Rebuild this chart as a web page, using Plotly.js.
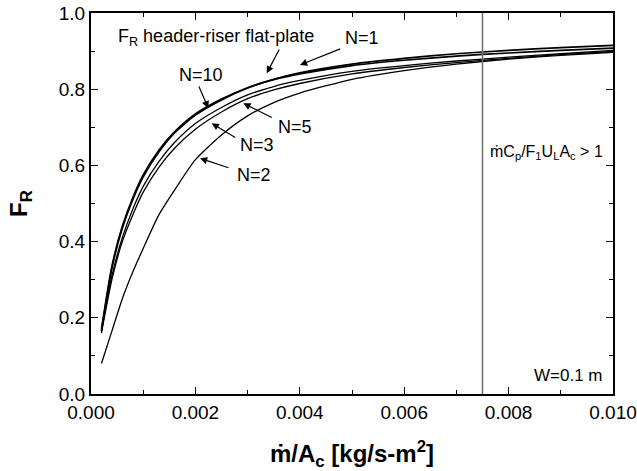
<!DOCTYPE html>
<html>
<head>
<meta charset="utf-8">
<script src="https://cdn.plot.ly/plotly-3.0.1.min.js"></script>
<style>html,body{margin:0;padding:0;background:#fff;}#chart{width:637px;height:471px;}</style>
</head>
<body>
<div id="chart"></div>
<script>
// Mass flow per collector area [kg/s-m2]
const massFlow = [0.0002,0.0004,0.0006,0.0008,0.001,0.0013,0.0016,0.002,0.0025,0.003,0.0035,0.004,0.005,0.006,0.007,0.008,0.009,0.010];
// Heat removal factor F_R for each number of risers N
const FR_N1  = [0.165,0.33,0.435,0.51,0.57,0.635,0.685,0.732,0.772,0.803,0.826,0.843,0.866,0.881,0.893,0.902,0.909,0.915];
const FR_N10 = [0.17,0.335,0.44,0.515,0.575,0.64,0.688,0.735,0.774,0.804,0.825,0.84,0.862,0.876,0.887,0.895,0.902,0.908];
const FR_N5  = [0.165,0.31,0.41,0.485,0.545,0.61,0.66,0.71,0.752,0.785,0.807,0.823,0.847,0.862,0.874,0.884,0.893,0.902];
const FR_N3  = [0.16,0.3,0.4,0.47,0.53,0.595,0.645,0.695,0.74,0.775,0.798,0.815,0.84,0.857,0.87,0.881,0.891,0.899];
const FR_N2  = [0.08,0.165,0.25,0.32,0.382,0.47,0.535,0.615,0.68,0.73,0.765,0.79,0.826,0.849,0.866,0.879,0.889,0.897];
const seriesNames = ["N=1","N=10","N=5","N=3","N=2"];
const seriesValues = [FR_N1, FR_N10, FR_N5, FR_N3, FR_N2];
const limitX = 0.0075;   // mCp/F1ULAc = 1 boundary
const xTicks = [0,0.002,0.004,0.006,0.008,0.010];
const xTickText = ["0.000","0.002","0.004","0.006","0.008","0.010"];
const yTicks = [0,0.2,0.4,0.6,0.8,1.0];
const yTickText = ["0.0","0.2","0.4","0.6","0.8","1.0"];

const FONT = "Arial, 'Liberation Sans', Helvetica, sans-serif";

const traces = seriesValues.map((v,i)=>({
  x: massFlow, y: v, name: seriesNames[i], type: "scatter", mode: "lines",
  line: {color: "#000", width: (i<2?1.7:1.3), shape: "spline", smoothing: 0.6},
  showlegend: false, hoverinfo: "skip"
}));
traces.push({
  x: [limitX, limitX], y: [0, 1], type: "scatter", mode: "lines",
  line: {color: "#6e6e6e", width: 1.5}, showlegend: false, hoverinfo: "skip"
});

// pixel -> data helpers for annotation geometry
const px2x = p => (p-91)*0.01/522;
const py2y = p => (394-p)/381;

function arrow(x0,y0,x1,y1){
  return {x: px2x(x1), y: py2y(y1), ax: px2x(x0), ay: py2y(y0), axref: "x", ayref: "y",
    xref: "x", yref: "y", text: "", showarrow: true, arrowhead: 2, arrowsize: 1.2,
    arrowwidth: 1.2, arrowcolor: "#000", standoff: 0, startstandoff: 0};
}
function label(txt, px, py, anchor){
  return {x: px2x(px), y: py2y(py), xref: "x", yref: "y", text: txt, showarrow: false,
    xanchor: anchor||"center", yanchor: "middle", font: {family: FONT, size: 18, color: "#000"}};
}

const annotations = [
  label("F<sub>R</sub> header-riser flat-plate", 116, 37, "left"),
  label("N=1", 362, 38),
  label("N=10", 201, 75),
  label("N=5", 295, 127),
  label("N=3", 257, 145),
  label("N=2", 254, 175),
  arrow(280,48,266.7,73.3),
  arrow(341.7,48.3,300,65),
  arrow(198.3,85,208.3,108.3),
  arrow(273.3,118.3,243.3,103.3),
  arrow(236.7,138.3,211.7,123.3),
  arrow(230,168.3,200,158.3),
  {x: px2x(488), y: py2y(152), xref: "x", yref: "y", showarrow: false, xanchor: "left", yanchor: "middle",
   text: "ṁC<sub>p</sub>/F<sub>1</sub>U<sub>L</sub>A<sub>c</sub> > 1", font: {family: FONT, size: 16, color: "#000"}},
  {x: px2x(605), y: py2y(375), xref: "x", yref: "y", showarrow: false, xanchor: "right", yanchor: "middle",
   text: "W=0.1 m", font: {family: FONT, size: 17, color: "#000"}}
];

const axisCommon = {
  showline: true, linecolor: "#000", linewidth: 2, mirror: "allticks",
  ticks: "inside", ticklen: 7, tickwidth: 1.3, tickcolor: "#000",
  showgrid: false, zeroline: false, tickfont: {family: FONT, size: 19, color: "#000"}
};

const layout = {
  width: 637, height: 471,
  margin: {l: 91, r: 24, t: 13, b: 77},
  paper_bgcolor: "#fff", plot_bgcolor: "#fff",
  font: {family: FONT, color: "#000"},
  xaxis: Object.assign({}, axisCommon, {
    range: [0, 0.010], tickvals: xTicks, ticktext: xTickText,
    minor: {dtick: 0.001, tick0: 0, ticks: "inside", ticklen: 4, tickcolor: "#000", tickwidth: 1},
    title: {text: "<b>ṁ/A<sub>c</sub> [kg/s-m<sup>2</sup>]</b>", font: {family: FONT, size: 24, color: "#000"}, standoff: 28}
  }),
  yaxis: Object.assign({}, axisCommon, {
    range: [0, 1.0], tickvals: yTicks, ticktext: yTickText,
    minor: {dtick: 0.1, tick0: 0, ticks: "inside", ticklen: 4, tickcolor: "#000", tickwidth: 1},
    title: {text: "<b>F<sub>R</sub></b>", font: {family: FONT, size: 24, color: "#000"}, standoff: 24}
  }),
  annotations: annotations
};

Plotly.newPlot("chart", traces, layout, {staticPlot: true, displayModeBar: false});
</script>
</body>
</html>
